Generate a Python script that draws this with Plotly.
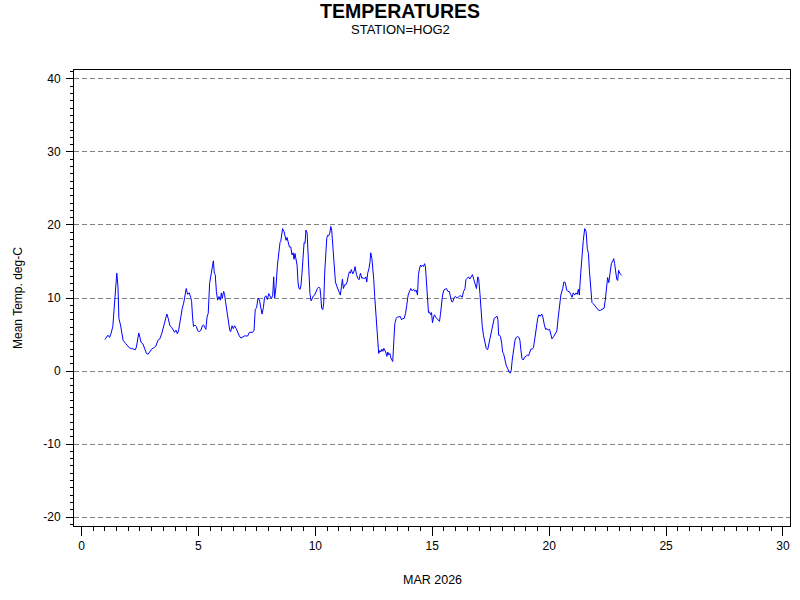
import plotly.graph_objects as go

# Day of month (MAR 2026) and mean temperature (deg C)
days = [
    1.00, 1.07, 1.13, 1.20, 1.27, 1.34, 1.41, 1.47, 1.51, 1.56, 1.60, 1.67, 1.71, 1.78, 1.88, 1.98,
    2.07, 2.14, 2.21, 2.30, 2.35, 2.41, 2.45, 2.50, 2.55, 2.63, 2.70, 2.78, 2.85, 2.93, 3.00, 3.10,
    3.18, 3.27, 3.35, 3.44, 3.52, 3.60, 3.65, 3.71, 3.78, 3.85, 3.92, 3.98, 4.04, 4.10, 4.15, 4.21,
    4.25, 4.31, 4.37, 4.42, 4.48, 4.54, 4.61, 4.67, 4.71, 4.75, 4.79, 4.85, 4.91, 4.97, 5.04, 5.11,
    5.17, 5.22, 5.28, 5.32, 5.37, 5.42, 5.48, 5.54, 5.59, 5.64, 5.68, 5.72, 5.77, 5.82, 5.88, 5.94,
    5.98, 6.02, 6.08, 6.12, 6.16, 6.22, 6.28, 6.34, 6.38, 6.44, 6.49, 6.55, 6.62, 6.68, 6.75, 6.82,
    6.89, 6.96, 7.04, 7.11, 7.18, 7.25, 7.32, 7.38, 7.43, 7.49, 7.55, 7.61, 7.66, 7.72, 7.78, 7.83,
    7.89, 7.95, 8.01, 8.06, 8.12, 8.18, 8.22, 8.26, 8.32, 8.38, 8.43, 8.49, 8.52, 8.56, 8.60, 8.66,
    8.70, 8.75, 8.79, 8.83, 8.89, 8.95, 9.00, 9.05, 9.09, 9.13, 9.18, 9.22, 9.26, 9.30, 9.35, 9.39,
    9.43, 9.48, 9.52, 9.56, 9.60, 9.65, 9.69, 9.73, 9.77, 9.82, 9.86, 9.92, 9.97, 10.03, 10.09, 10.15,
    10.20, 10.23, 10.27, 10.32, 10.36, 10.40, 10.45, 10.49, 10.53, 10.57, 10.62, 10.66, 10.70, 10.75, 10.80, 10.86,
    10.92, 10.97, 11.03, 11.07, 11.12, 11.16, 11.20, 11.25, 11.30, 11.36, 11.42, 11.46, 11.50, 11.54, 11.60, 11.66,
    11.70, 11.76, 11.82, 11.87, 11.93, 11.99, 12.04, 12.10, 12.16, 12.20, 12.24, 12.30, 12.34, 12.37, 12.42, 12.46,
    12.50, 12.54, 12.59, 12.63, 12.67, 12.71, 12.76, 12.80, 12.84, 12.89, 12.93, 12.97, 13.01, 13.06, 13.10, 13.14,
    13.19, 13.23, 13.27, 13.31, 13.36, 13.40, 13.46, 13.51, 13.57, 13.63, 13.69, 13.74, 13.80, 13.86, 13.91, 13.97,
    14.03, 14.08, 14.14, 14.20, 14.26, 14.31, 14.37, 14.41, 14.46, 14.50, 14.54, 14.58, 14.63, 14.67, 14.71, 14.76,
    14.80, 14.84, 14.88, 14.93, 14.97, 15.01, 15.06, 15.10, 15.14, 15.20, 15.25, 15.31, 15.35, 15.40, 15.44, 15.50,
    15.55, 15.61, 15.67, 15.73, 15.77, 15.83, 15.88, 15.94, 16.00, 16.05, 16.11, 16.17, 16.22, 16.28, 16.34, 16.40,
    16.44, 16.50, 16.55, 16.61, 16.67, 16.72, 16.78, 16.84, 16.89, 16.95, 16.99, 17.04, 17.08, 17.14, 17.19, 17.25,
    17.31, 17.37, 17.42, 17.48, 17.54, 17.59, 17.65, 17.71, 17.77, 17.81, 17.84, 17.88, 17.92, 17.97, 18.01, 18.05,
    18.11, 18.17, 18.22, 18.28, 18.34, 18.38, 18.42, 18.48, 18.54, 18.59, 18.65, 18.71, 18.75, 18.79, 18.84, 18.89,
    18.95, 19.01, 19.06, 19.12, 19.16, 19.22, 19.28, 19.33, 19.39, 19.45, 19.51, 19.56, 19.62, 19.68, 19.73, 19.79,
    19.85, 19.91, 19.96, 20.02, 20.08, 20.12, 20.19, 20.26, 20.33, 20.39, 20.45, 20.50, 20.58, 20.63, 20.69, 20.75,
    20.80, 20.86, 20.92, 20.98, 21.03, 21.09, 21.15, 21.20, 21.25, 21.29, 21.35, 21.40, 21.46, 21.52, 21.58, 21.63,
    21.68, 21.72, 21.78, 21.83, 21.89, 21.95, 22.00, 22.06, 22.12, 22.18, 22.23, 22.29, 22.35, 22.40, 22.46, 22.50,
    22.55, 22.60, 22.66, 22.72, 22.76, 22.80, 22.85, 22.89, 22.93, 22.97, 23.02, 23.06, 23.10,
]
temp_c = [
    4.3, 4.6, 4.9, 4.6, 5.2, 6.1, 9.3, 12.5, 13.4, 11.6, 7.2, 6.3, 5.4, 4.2, 3.8, 3.4,
    3.1, 3.1, 3.0, 2.9, 3.3, 4.3, 5.2, 4.6, 3.9, 3.7, 3.1, 2.4, 2.3, 2.6, 3.0, 3.2,
    3.4, 4.2, 4.4, 5.2, 6.2, 6.8, 7.8, 7.2, 6.2, 6.0, 5.7, 5.3, 5.6, 5.1, 5.5, 6.6,
    7.9, 8.6, 9.3, 10.3, 11.3, 10.5, 10.7, 10.1, 9.5, 7.4, 6.1, 6.3, 6.1, 5.5, 5.4, 5.6,
    6.2, 6.3, 6.0, 5.7, 7.4, 7.9, 12.0, 13.2, 14.1, 15.1, 13.4, 13.2, 10.9, 9.7, 10.2, 9.7,
    10.7, 10.0, 10.9, 10.5, 9.5, 8.1, 7.0, 5.6, 5.4, 6.2, 5.8, 6.2, 5.8, 5.3, 4.8, 4.5,
    4.7, 4.8, 4.8, 4.8, 5.3, 5.3, 5.3, 5.6, 8.4, 8.7, 10.0, 9.7, 8.6, 7.8, 8.7, 10.1,
    10.3, 9.8, 10.6, 10.3, 9.9, 10.4, 12.9, 10.0, 11.6, 14.5, 16.1, 17.6, 17.7, 18.9, 19.5, 19.1,
    18.6, 17.9, 18.3, 17.6, 17.0, 17.0, 15.9, 16.2, 15.3, 16.1, 15.2, 14.5, 12.2, 11.3, 11.2, 11.8,
    13.4, 16.1, 17.6, 17.5, 19.3, 18.9, 16.1, 12.5, 10.6, 9.6, 10.0, 10.3, 10.4, 10.9, 11.3, 11.5,
    11.3, 10.4, 8.6, 8.4, 9.3, 13.4, 16.6, 18.2, 18.6, 18.5, 18.9, 19.8, 19.3, 16.6, 13.8, 12.2,
    11.6, 11.1, 10.6, 10.4, 11.6, 12.6, 11.3, 11.8, 11.8, 12.2, 13.2, 13.6, 13.4, 13.9, 13.3, 13.7,
    14.3, 13.2, 12.7, 12.5, 13.4, 12.7, 12.8, 12.6, 12.9, 12.2, 13.4, 14.1, 15.0, 16.2, 15.4, 14.3,
    12.5, 10.2, 7.9, 5.2, 3.1, 2.4, 2.8, 2.6, 3.0, 2.7, 3.1, 2.9, 2.6, 2.0, 2.6, 2.2,
    2.4, 1.8, 1.6, 1.3, 4.2, 6.5, 7.2, 7.4, 7.4, 7.5, 7.0, 7.2, 7.2, 7.9, 9.0, 10.4,
    10.9, 11.3, 11.0, 11.2, 10.9, 11.1, 10.4, 13.2, 14.1, 14.5, 14.3, 14.5, 14.3, 14.7, 14.3, 11.8,
    9.7, 8.0, 8.1, 7.7, 8.0, 6.6, 7.4, 7.7, 7.4, 7.2, 7.0, 6.8, 7.7, 9.0, 10.4, 11.1,
    11.2, 11.3, 10.9, 10.9, 10.3, 9.5, 9.5, 10.1, 10.2, 10.0, 10.1, 10.3, 10.3, 10.1, 10.9, 11.3,
    12.5, 12.8, 12.9, 12.6, 12.9, 13.2, 12.5, 11.6, 11.3, 12.9, 12.5, 10.6, 8.4, 6.1, 4.9, 3.8,
    3.1, 2.9, 3.8, 4.7, 5.6, 6.3, 7.2, 7.4, 7.5, 7.0, 4.9, 4.9, 4.7, 3.8, 2.6, 2.4,
    1.5, 0.7, 0.4, -0.1, -0.3, 0.1, 1.5, 3.1, 4.2, 4.6, 4.7, 4.6, 4.2, 2.9, 1.7, 1.5,
    1.9, 2.0, 2.2, 2.1, 2.6, 3.0, 3.0, 3.2, 4.5, 6.1, 7.2, 7.7, 7.5, 7.8, 7.4, 6.4,
    5.7, 5.8, 5.6, 5.7, 4.9, 4.4, 4.7, 5.1, 5.5, 7.4, 9.3, 10.4, 11.3, 12.2, 12.1, 11.1,
    10.9, 10.9, 10.5, 10.1, 10.7, 10.4, 10.7, 10.5, 11.2, 10.4, 13.4, 16.1, 17.9, 19.5, 19.1, 16.8,
    16.1, 13.8, 11.1, 9.4, 9.2, 9.0, 8.7, 8.6, 8.3, 8.3, 8.4, 8.4, 8.6, 9.7, 11.8, 12.8,
    12.1, 13.6, 14.7, 15.1, 15.4, 14.7, 13.4, 12.6, 12.4, 13.8, 13.4, 13.2, 13.1,
]

x_ticks = [0, 5, 10, 15, 20, 25, 30]
y_ticks = [-20, -10, 0, 10, 20, 30, 40]

FONT = "Liberation Sans, Arial, sans-serif"

fig = go.Figure()
fig.add_trace(go.Scatter(
    x=days, y=temp_c, mode="lines",
    line=dict(color="#0000FF", width=1),
    hoverinfo="x+y", showlegend=False,
))

axis_common = dict(
    showline=True, linecolor="black", linewidth=1, mirror=True,
    ticks="outside", tickcolor="black", tickwidth=1,
    tickfont=dict(family=FONT, size=12, color="black"),
    zeroline=False,
)

fig.update_xaxes(
    **axis_common,
    range=[-0.32, 30.3], tickmode="array", tickvals=x_ticks,
    ticktext=[str(v) for v in x_ticks], ticklen=9,
    showgrid=False,
    minor=dict(dtick=0.5, tick0=0, ticks="outside", ticklen=4, tickcolor="black", showgrid=False),
)
fig.update_yaxes(
    **axis_common,
    range=[-21.23, 41.23], tickmode="array", tickvals=y_ticks,
    ticktext=[str(v) for v in y_ticks], ticklen=7, ticklabelstandoff=3,
    showgrid=True, gridcolor="#808080", gridwidth=1, griddash="5px,3px",
    minor=dict(dtick=1, tick0=0, ticks="outside", ticklen=3, tickcolor="black", showgrid=False),
)

fig.update_layout(
    width=800, height=600,
    margin=dict(l=74, r=10, t=70, b=74),
    paper_bgcolor="white", plot_bgcolor="white",
    font=dict(family=FONT, color="black"),
    title=dict(
        text="<b>TEMPERATURES</b>", x=0.5, xref="container", xanchor="center",
        y=1 - 11 / 600, yref="container", yanchor="middle",
        font=dict(family=FONT, size=19.5, color="black"),
    ),
    annotations=[
        dict(text="STATION=HOG2", xref="paper", yref="paper",
             x=(400 - 74) / 716, y=(526 - 30) / 456, xanchor="center", yanchor="middle",
             showarrow=False, font=dict(family=FONT, size=13, color="black")),
        dict(text="MAR 2026", xref="paper", yref="paper",
             x=0.5, y=(526 - 580) / 456, xanchor="center", yanchor="middle",
             showarrow=False, font=dict(family=FONT, size=12.5, color="black")),
        dict(text="Mean Temp. deg-C", xref="paper", yref="paper",
             x=(18 - 74) / 716, y=0.5, xanchor="center", yanchor="middle", textangle=-90,
             showarrow=False, font=dict(family=FONT, size=12, color="black")),
    ],
)

fig.write_html("out.html", config={"displayModeBar": False},
               post_script="document.body.style.margin='0px';")
